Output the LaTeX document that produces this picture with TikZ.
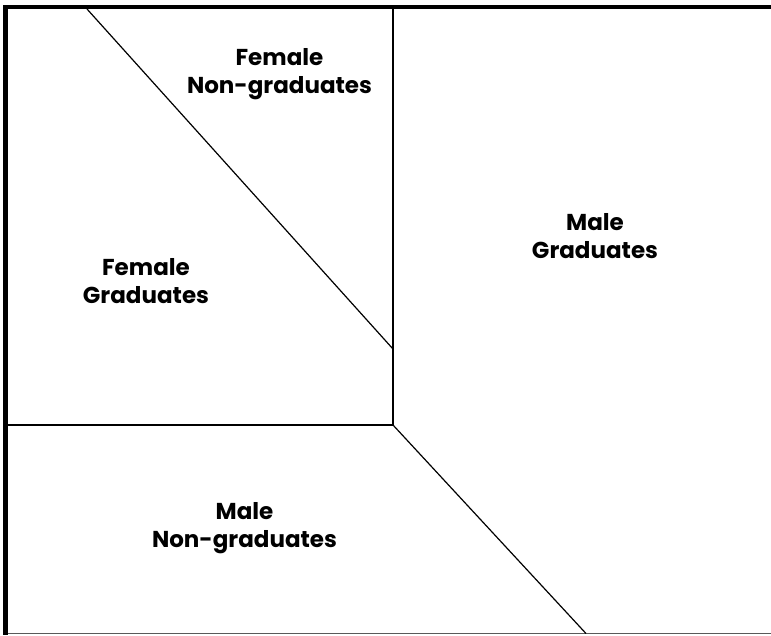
\documentclass[tikz,border=0pt]{standalone}
\usepackage{fontspec}
\setmainfont{Poppins}
\begin{document}
\begin{tikzpicture}[x=1pt,y=-1pt,
  label text/.style={font=\fontsize{23}{28}\selectfont\bfseries, align=center, anchor=base, inner sep=0pt},
  frame thick/.style={line width=4.8pt, black},
  divider/.style={line width=1.2pt, black},
  base line/.style={line width=1.2pt, black!65}]
  \useasboundingbox (0,0) rectangle (771,635);
  % frame corners and division points
  \coordinate (tl) at (5.5,7);
  \coordinate (tr) at (771,7);
  \coordinate (bl) at (5.5,635);
  \coordinate (bb) at (5.5,633.5);
  \coordinate (br) at (771,633.5);
  \coordinate (vtop) at (393,9);
  \coordinate (corner) at (393,425);
  \coordinate (hleft) at (8,425);
  \coordinate (d1a) at (87,9);
  \coordinate (d1b) at (393,349);
  \coordinate (d2b) at (586,633.5);
  % outer frame: thick top and left, thin bottom
  \draw[base line] (bb) -- (br);
  \draw[frame thick] (tr) -- ([xshift=-2.4pt]tl) ;
  \draw[frame thick] ([yshift=-2.4pt]tl) -- (bl);
  % inner divisions
  \draw[divider] (vtop) -- (corner) -- (hleft);
  \draw[divider] (d1a) -- (d1b);
  \draw[divider] (corner) -- (d2b);
  % region labels (anchored at the baseline of the last line)
  \node[label text] (fng) at (279.5,93) {Female\\Non-graduates};
  \node[label text] (mg) at (595,258) {Male\\Graduates};
  \node[label text] (fg) at (146,303) {Female\\Graduates};
  \node[label text] (mng) at (244.5,547) {Male\\Non-graduates};
\end{tikzpicture}
\end{document}
